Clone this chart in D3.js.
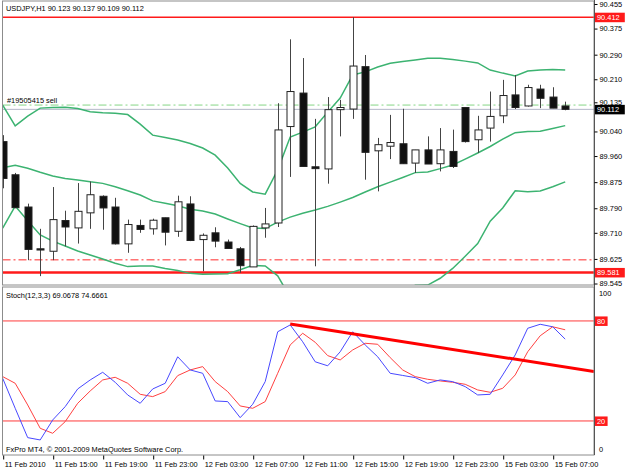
<!DOCTYPE html>
<meta charset="utf-8">
<style>
body { margin: 0; background: #fff; }
svg { display: block; font-family: "Liberation Sans", Arial, sans-serif; font-size: 7.4px; }
.frame { fill: none; stroke: #8c8c8c; stroke-width: 1; }
.axis text { fill: #000; font-size: 7.4px; }
.axis line { stroke: #000; }
.axis path { display: none; }
</style>
<body>
<svg width="625" height="469"></svg>
<script src="https://d3js.org/d3.v7.min.js"></script>
<script>

// USDJPY H1, one entry per bar (11 Feb 11:00 .. 15 Feb 08:00)
var opens  = [90.007, 89.899, 89.794, 89.658, 89.650, 89.750, 89.726, 89.775, 89.829, 89.794, 89.674, 89.734, 89.723, 89.759, 89.715, 89.804, 89.688, 89.710, 89.680, 89.658, 89.599, 89.726, 89.742, 90.056, 90.165, 89.925, 89.918, 90.111, 90.113, 90.251, 89.977, 89.992, 90.000, 89.937, 89.980, 89.935, 89.975, 90.118, 90.013, 90.051, 90.091, 90.159, 90.123, 90.178, 90.152, 90.123];
var highs  = [90.028, 89.905, 89.805, 89.723, 89.859, 89.782, 89.872, 89.877, 89.832, 89.824, 89.753, 89.753, 89.756, 89.759, 89.831, 89.829, 89.708, 89.728, 89.688, 89.664, 89.734, 89.791, 90.132, 90.340, 90.279, 90.081, 90.152, 90.143, 90.412, 90.289, 90.019, 90.094, 90.114, 89.980, 90.024, 90.051, 90.046, 90.118, 90.091, 90.170, 90.208, 90.224, 90.192, 90.192, 90.184, 90.137];
var lows   = [89.855, 89.790, 89.621, 89.569, 89.621, 89.666, 89.675, 89.723, 89.720, 89.672, 89.645, 89.710, 89.704, 89.669, 89.697, 89.683, 89.585, 89.663, 89.659, 89.580, 89.599, 89.694, 89.729, 89.892, 89.926, 89.601, 89.870, 90.024, 90.081, 89.883, 89.845, 89.950, 89.935, 89.905, 89.934, 89.910, 89.921, 90.004, 89.970, 90.007, 90.067, 90.113, 90.121, 90.116, 90.116, 90.109];
var closes = [89.887, 89.792, 89.656, 89.654, 89.753, 89.729, 89.780, 89.834, 89.791, 89.674, 89.737, 89.721, 89.751, 89.712, 89.811, 89.685, 89.702, 89.683, 89.659, 89.603, 89.731, 89.739, 90.045, 90.170, 89.926, 89.919, 90.111, 90.118, 90.253, 89.972, 89.997, 90.004, 89.935, 89.980, 89.934, 89.980, 89.926, 90.007, 90.045, 90.089, 90.157, 90.118, 90.183, 90.148, 90.116, 90.112];

// bollinger bands
var bbUpper  = [90.126, 90.058, 90.090, 90.116, 90.118, 90.119, 90.115, 90.104, 90.101, 90.099, 90.095, 90.064, 90.028, 90.020, 90.012, 90.001, 89.986, 89.963, 89.921, 89.871, 89.843, 89.836, 89.915, 90.022, 90.038, 90.055, 90.103, 90.149, 90.224, 90.234, 90.250, 90.262, 90.268, 90.273, 90.278, 90.278, 90.274, 90.269, 90.263, 90.240, 90.230, 90.221, 90.237, 90.240, 90.242, 90.240];
var bbMiddle = [89.922, 89.930, 89.920, 89.907, 89.895, 89.887, 89.882, 89.876, 89.871, 89.860, 89.847, 89.833, 89.814, 89.806, 89.798, 89.787, 89.781, 89.771, 89.755, 89.740, 89.726, 89.724, 89.745, 89.761, 89.774, 89.784, 89.796, 89.810, 89.825, 89.843, 89.860, 89.875, 89.890, 89.906, 89.908, 89.919, 89.931, 89.950, 89.970, 89.991, 90.015, 90.036, 90.040, 90.041, 90.050, 90.059];
var bbLower  = [89.725, 89.797, 89.749, 89.703, 89.683, 89.667, 89.651, 89.638, 89.625, 89.611, 89.600, 89.602, 89.602, 89.594, 89.587, 89.578, 89.575, 89.576, 89.577, 89.590, 89.604, 89.602, 89.570, 89.500, 89.510, 89.513, 89.489, 89.471, 89.426, 89.452, 89.470, 89.488, 89.512, 89.539, 89.540, 89.562, 89.594, 89.634, 89.675, 89.748, 89.791, 89.847, 89.844, 89.846, 89.860, 89.876];

// stochastic 12,3,3
var stochK = [45.6, 27.6, 10.0, 8.6, 20.6, 28.6, 39.2, 44.6, 49.2, 43.2, 35.6, 30.6, 39.2, 42.6, 58.5, 50.6, 48.6, 32.0, 31.6, 22.0, 30.0, 43.6, 73.5, 77.6, 67.5, 55.5, 53.1, 61.5, 73.5, 65.6, 58.5, 48.6, 47.3, 46.0, 42.6, 44.6, 43.6, 40.6, 35.6, 36.0, 47.6, 59.6, 75.6, 78.0, 76.5, 69.1];
var stochD = [46.6, 42.6, 29.6, 15.6, 12.6, 19.6, 30.6, 38.0, 44.6, 46.2, 42.6, 36.0, 34.6, 37.6, 47.2, 50.6, 52.6, 43.6, 37.6, 29.0, 27.6, 31.6, 48.6, 65.6, 72.6, 67.2, 59.2, 56.6, 62.6, 66.6, 66.0, 58.0, 50.6, 46.6, 45.0, 44.0, 43.2, 42.0, 38.6, 37.2, 39.6, 47.6, 61.5, 71.1, 76.5, 74.7];
var stochLevels = [80, 20];
var stochScaleLabels = [100, 0];
var trendStart = [23, 78.2];   // [bar, value], ray to the right
var trendEnd   = [44, 53.5];

// axis
var priceTicks = [90.455, 90.375, 90.290, 90.210, 90.135, 90.040, 89.960, 89.875, 89.790, 89.710, 89.625, 89.545];
var timeLabels = ["11 Feb 2010", "11 Feb 15:00", "11 Feb 19:00", "11 Feb 23:00", "12 Feb 03:00", "12 Feb 07:00",
                  "12 Feb 11:00", "12 Feb 15:00", "12 Feb 19:00", "12 Feb 23:00", "15 Feb 03:00", "15 Feb 07:00"];
var timeLabelBars = [0, 4, 8, 12, 16, 20, 24, 28, 32, 36, 40, 44];

// horizontal lines on the price chart
var redLines = [90.412, 89.581];
var stopLine = 89.622;
var orderLine = 90.126;
var bidPrice = 90.112;

var svg = d3.select("svg");
var left = 2.5, right = 594;
var mainTop = 1, mainBottom = 285, stochTop = 287, stochBottom = 455;

var x = d3.scaleLinear().domain([0, 45]).range([2.7, 565.2]);
var y = d3.scaleLinear().domain([89.545, 90.455]).range([283.5, 4]);
var ys = d3.scaleLinear().domain([0, 100]).range([454.3, 287.6]);

var defs = svg.append("defs");
defs.append("clipPath").attr("id", "clipMain").append("rect")
    .attr("x", left).attr("y", mainTop).attr("width", right - left).attr("height", mainBottom - mainTop);
defs.append("clipPath").attr("id", "clipStoch").append("rect")
    .attr("x", left).attr("y", stochTop).attr("width", right - left).attr("height", stochBottom - stochTop);

var main = svg.append("g").attr("clip-path", "url(#clipMain)");
var stoch = svg.append("g").attr("clip-path", "url(#clipStoch)");

// ---- price panel
main.append("line")
    .attr("x1", left).attr("x2", right).attr("y1", y(bidPrice)).attr("y2", y(bidPrice))
    .attr("stroke", "#b4b8c8").attr("stroke-width", 1);
main.append("line")
    .attr("x1", left).attr("x2", right).attr("y1", y(orderLine)).attr("y2", y(orderLine))
    .attr("stroke", "#86d686").attr("stroke-width", 1).attr("stroke-dasharray", "8,3,2,3");
main.append("line")
    .attr("x1", left).attr("x2", right).attr("y1", y(stopLine)).attr("y2", y(stopLine))
    .attr("stroke", "#ff2a2a").attr("stroke-width", 1).attr("stroke-dasharray", "8,3,2,3");
main.selectAll(".hline").data(redLines).enter().append("line")
    .attr("class", "hline")
    .attr("x1", left).attr("x2", right)
    .attr("y1", function(d) { return y(d); }).attr("y2", function(d) { return y(d); })
    .attr("stroke", "#ff1a1a").attr("stroke-width", function(d, i) { return i == 0 ? 1.6 : 2.4; });

var bandLine = d3.line()
    .x(function(d, i) { return x(i); })
    .y(function(d) { return y(d); });
[bbUpper, bbMiddle, bbLower].forEach(function(band) {
    main.append("path")
        .attr("d", bandLine(band))
        .attr("fill", "none")
        .attr("stroke", "#3cb371")
        .attr("stroke-width", 1.5);
});

var idx = d3.range(opens.length);
var bodyW = 7;
main.selectAll(".wick").data(idx).enter().append("line")
    .attr("class", "wick")
    .attr("x1", function(i) { return Math.round(x(i)) + 0.5; })
    .attr("x2", function(i) { return Math.round(x(i)) + 0.5; })
    .attr("y1", function(i) { return y(highs[i]); })
    .attr("y2", function(i) { return y(lows[i]); })
    .attr("stroke", "#444").attr("stroke-width", 1);
main.selectAll(".body").data(idx).enter().append("rect")
    .attr("class", "body")
    .attr("x", function(i) { return Math.round(x(i)) - bodyW / 2 + 0.5; })
    .attr("width", bodyW)
    .attr("y", function(i) { return y(Math.max(opens[i], closes[i])); })
    .attr("height", function(i) { return Math.max(1, Math.abs(y(opens[i]) - y(closes[i]))); })
    .attr("fill", function(i) { return closes[i] >= opens[i] ? "#fff" : "#111"; })
    .attr("stroke", "#222").attr("stroke-width", 1);

// ---- stochastic panel
stoch.selectAll(".level").data(stochLevels).enter().append("line")
    .attr("class", "level")
    .attr("x1", left).attr("x2", right)
    .attr("y1", function(d) { return ys(d); }).attr("y2", function(d) { return ys(d); })
    .attr("stroke", "#ff3b3b").attr("stroke-width", 1);

var stochLine = d3.line()
    .x(function(d, i) { return x(i); })
    .y(function(d) { return ys(d); });
stoch.append("path").attr("d", stochLine(stochD))
    .attr("fill", "none").attr("stroke", "#ff4040").attr("stroke-width", 1);
stoch.append("path").attr("d", stochLine(stochK))
    .attr("fill", "none").attr("stroke", "#4848ff").attr("stroke-width", 1);

var slope = (trendEnd[1] - trendStart[1]) / (trendEnd[0] - trendStart[0]);
var rayBar = x.invert(right);
stoch.append("line")
    .attr("x1", x(trendStart[0])).attr("y1", ys(trendStart[1]))
    .attr("x2", x(rayBar)).attr("y2", ys(trendStart[1] + slope * (rayBar - trendStart[0])))
    .attr("stroke", "#ff0000").attr("stroke-width", 3);

// ---- frames
svg.append("rect").attr("class", "frame")
    .attr("x", left).attr("y", mainTop).attr("width", right - left).attr("height", mainBottom - mainTop);
svg.append("rect").attr("class", "frame")
    .attr("x", left).attr("y", stochTop).attr("width", right - left).attr("height", stochBottom - stochTop);
svg.append("line").attr("x1", right + 0.5).attr("x2", right + 0.5).attr("y1", 0).attr("y2", stochBottom)
    .attr("stroke", "#555");

// ---- axes
svg.append("g").attr("class", "axis")
    .attr("transform", "translate(" + (right + 0.5) + ",0)")
    .call(d3.axisRight(y).tickValues(priceTicks).tickSize(3).tickPadding(2).tickFormat(d3.format(".3f")));

// 100 / 0 marks of the oscillator window, labels kept inside the window
svg.selectAll(".stochMark").data(stochScaleLabels).enter().append("text")
    .attr("class", "stochMark")
    .attr("x", right + 5)
    .attr("y", function(d) { return d == 100 ? ys(d) + 8 : ys(d) - 2; })
    .attr("fill", "#000")
    .text(function(d) { return d; });

var timeAxis = svg.append("g").attr("class", "axis")
    .attr("transform", "translate(0," + (stochBottom + 0.5) + ")")
    .call(d3.axisBottom(x).tickValues(timeLabelBars).tickSize(4).tickPadding(2)
        .tickFormat(function(d, i) { return timeLabels[i]; }));
timeAxis.selectAll("text").attr("text-anchor", "start").attr("dx", "1.5");
timeAxis.selectAll("line").attr("transform", "translate(0.5,0)");

// price-axis tags
function tag(g, value, scale, bg, label) {
    var yy = scale(value);
    g.append("rect").attr("x", right + 1).attr("y", yy - 4.5).attr("width", label.length * 4.3 + 4).attr("height", 9.5)
        .attr("fill", bg);
    g.append("text").attr("x", right + 3).attr("y", yy).attr("dy", "0.35em")
        .attr("fill", "#fff").text(label);
}
var tags = svg.append("g");
tag(tags, redLines[0], y, "#ff1a1a", "90.412");
tag(tags, redLines[1], y, "#ff1a1a", "89.581");
tag(tags, bidPrice, y, "#000", "90.112");
tag(tags, 80, ys, "#ff1a1a", "80");
tag(tags, 20, ys, "#ff1a1a", "20");

// ---- texts
svg.append("text").attr("x", 6).attr("y", 11)
    .text("USDJPY,H1  " + opens[45].toFixed(3) + " " + highs[45].toFixed(3) + " " + lows[45].toFixed(3) + " " + closes[45].toFixed(3));
svg.append("text").attr("x", 7).attr("y", 103).text("#19505415 sell");
svg.append("text").attr("x", 6).attr("y", 298)
    .text("Stoch(12,3,3) 69.0678 74.6661");
svg.append("text").attr("x", 6).attr("y", 452)
    .text("FxPro MT4, \u00a9 2001-2009 MetaQuotes Software Corp.");

</script>
